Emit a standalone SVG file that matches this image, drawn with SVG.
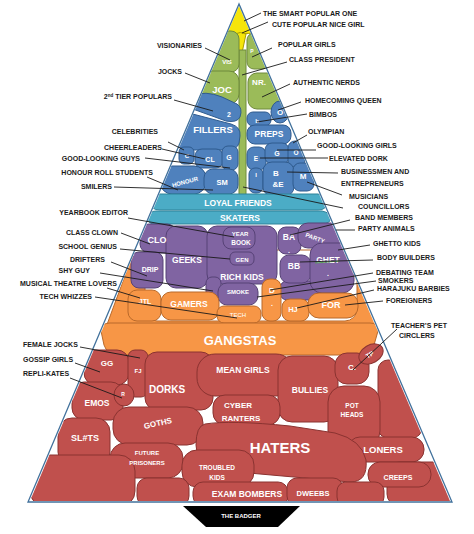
<svg xmlns="http://www.w3.org/2000/svg" width="474" height="534" viewBox="0 0 474 534">
<style>
.lbl{font-family:"Liberation Sans",Arial,sans-serif;font-weight:bold;font-size:7px;fill:#1a1a1a}
.e{text-anchor:end}
.ld{stroke:#1a1a1a;stroke-width:0.9;fill:none}
.w{font-family:"Liberation Sans",Arial,sans-serif;font-weight:bold;fill:#fff;text-anchor:middle}
.y{fill:#f5e50a;stroke:#a89b00;stroke-width:1}
.g{fill:#9bbb59;stroke:#6f8a3c;stroke-width:1}
.b{fill:#4f81bd;stroke:#2f5b8e;stroke-width:1}
.t{fill:#4bacc6;stroke:#2f8299;stroke-width:1}
.p{fill:#8064a2;stroke:#564276;stroke-width:1}
.o{fill:#f79646;stroke:#b8692a;stroke-width:1}
.r{fill:#c0504d;stroke:#8a3331;stroke-width:1}
</style>
<defs>
<clipPath id="pyr"><polygon points="239,6 30,501 450,501"/></clipPath>
</defs>
<rect width="474" height="534" fill="#fff"/>
<g id="shapes" clip-path="url(#pyr)">
<g id="top">
<path class="y" d="M239,4 L220,32 Q239,36 258,32 Z"/>
<path class="y" d="M235,34 Q240,31 246,34 L242,53 Q240,54 239,52 Z"/>
</g>
<g id="green">
<rect class="g" x="239" y="50" width="7" height="146"/>
<rect class="g" x="203" y="31" width="36" height="41" rx="8"/>
<rect class="g" x="247" y="33" width="22" height="36" rx="7"/>
<rect class="g" x="198" y="71" width="41" height="33" rx="10"/>
<rect class="g" x="248" y="73" width="36" height="36" rx="9"/>
<text class="w" x="227" y="64" font-size="6" fill="#fff">VIS</text>
<text class="w" x="252" y="53" font-size="5">P</text>
<text class="w" x="222" y="93" font-size="9.5">JOC</text>
<text class="w" x="259" y="85" font-size="8">NR.</text>
</g>
<g id="blue">
<path class="b" d="M192,96 Q205,90 222,97 L237,104 Q243,108 240,117 Q237,123 226,121 L190,108 Z"/>
<path class="b" d="M185,112 L231,124 Q241,127 240,136 L239,143 Q237,150 228,150 L186,150 Q176,150 178,138 Z"/>
<ellipse class="b" cx="280" cy="112" rx="9" ry="11"/>
<rect class="b" x="247" y="112" width="24" height="14" rx="6"/>
<rect class="b" x="247" y="125" width="44" height="19" rx="8"/>
<rect class="b" x="247" y="147" width="19" height="23" rx="7"/>
<rect class="b" x="265" y="143" width="24" height="21" rx="7"/>
<rect class="b" x="288" y="141" width="17" height="26" rx="7"/>
<rect class="b" x="249" y="168" width="14" height="25" rx="6"/>
<rect class="b" x="263" y="162" width="31" height="34" rx="9"/>
<rect class="b" x="293" y="163" width="21" height="28" rx="7"/>
<rect class="b" x="179" y="147" width="15" height="17" rx="5"/>
<rect class="b" x="195" y="149" width="28" height="19" rx="7"/>
<rect class="b" x="222" y="146" width="16" height="24" rx="6"/>
<rect class="b" x="160" y="166" width="46" height="28" rx="12"/>
<rect class="b" x="204" y="169" width="34" height="25" rx="9"/>
<text class="w" x="229" y="117" font-size="7">2</text>
<text class="w" x="213" y="133" font-size="9.5">FILLERS</text>
<text class="w" x="280" y="115" font-size="8">O</text>
<text class="w" x="257" y="123" font-size="6">b</text>
<text class="w" x="269" y="137" font-size="8.5">PREPS</text>
<text class="w" x="187" y="158" font-size="6">C</text>
<text class="w" x="210" y="162" font-size="7">CL</text>
<text class="w" x="229" y="160" font-size="7">G</text>
<text class="w" x="185" y="184" font-size="6" transform="rotate(-15 185 182)">HONOUR</text>
<text class="w" x="222" y="185" font-size="7.5">SM</text>
<text class="w" x="256" y="161" font-size="6.5">E</text>
<text class="w" x="277" y="156" font-size="7">G</text>
<text class="w" x="296" y="155" font-size="6.5">O</text>
<text class="w" x="256" y="177" font-size="6">I</text>
<text class="w" x="276" y="176" font-size="8">B</text>
<text class="w" x="278" y="187" font-size="8">&amp;E</text>
<text class="w" x="303" y="179" font-size="8">M</text>
</g>
<g id="teal">
<path class="t" d="M160,194 L318,194 Q327,196 327,202 Q327,210 318,210 L160,210 Q150,210 151,202 Q152,194 160,194 Z"/>
<path class="t" d="M156,211 L322,211 Q331,213 331,218 Q330,224 322,224 L156,224 Q147,224 148,218 Q149,211 156,211 Z"/>
<text class="w" x="238" y="206" font-size="8.5">LOYAL FRIENDS</text>
<text class="w" x="240" y="221" font-size="8.5">SKATERS</text>
</g>
<g id="orangeback">
<path class="o" d="M138,255 Q132,255 130,262 L105,330 L378,330 L364,262 Q361,253 355,255 Z"/>
<rect x="145" y="250" width="212" height="71" rx="12" fill="#fff" stroke="#b8692a" stroke-width="1"/>
</g>
<g id="purple">
<rect class="p" x="140" y="224" width="36" height="29" rx="9"/>
<rect class="p" x="166" y="226" width="42" height="62" rx="10"/>
<rect class="p" x="131" y="252" width="32" height="36" rx="8"/>
<rect class="p" x="207" y="226" width="70" height="58" rx="10"/>
<rect class="p" x="223" y="227" width="32" height="22" rx="8"/>
<rect class="p" x="230" y="252" width="24" height="13" rx="5"/>
<rect class="p" x="206" y="277" width="15" height="24" rx="6"/>
<rect class="p" x="280" y="281" width="52" height="19" rx="7"/>
<rect class="p" x="218" y="283" width="40" height="22" rx="9"/>
<rect class="p" x="278" y="227" width="23" height="27" rx="8"/>
<rect class="p" x="298" y="223" width="44" height="25" rx="10"/>
<rect class="p" x="280" y="255" width="31" height="28" rx="9"/>
<rect class="p" x="310" y="243" width="44" height="50" rx="12"/>
<text class="w" x="157" y="243" font-size="9">CLO</text>
<text class="w" x="187" y="263" font-size="8.5">GEEKS</text>
<text class="w" x="240" y="236" font-size="6">YEAR</text>
<text class="w" x="241" y="245" font-size="6.5">BOOK</text>
<text class="w" x="242" y="262" font-size="6">GEN</text>
<text class="w" x="242" y="280" font-size="8.5">RICH KIDS</text>
<text class="w" x="150" y="272" font-size="7">DRIP</text>
<text class="w" x="238" y="294" font-size="6">SMOKE</text>
<text class="w" x="289" y="240" font-size="8.5">BA</text>
<text class="w" x="289" y="253" font-size="7">.</text>
<text class="w" x="315" y="240" font-size="6" transform="rotate(20 315 238)">PARTY</text>
<text class="w" x="294" y="269" font-size="8.5">BB</text>
<text class="w" x="328" y="263" font-size="8.5">GHET</text>
<line x1="315" y1="263" x2="340" y2="261" stroke="#5aa05a" stroke-width="1"/>
<text class="w" x="328" y="276" font-size="7">.</text>
</g>
<g id="orange">
<rect class="o" x="128" y="290" width="33" height="31" rx="9"/>
<rect class="o" x="161" y="292" width="58" height="28" rx="10"/>
<rect class="o" x="217" y="306" width="44" height="17" rx="7"/>
<rect class="o" x="262" y="279" width="19" height="42" rx="8"/>
<rect class="o" x="282" y="299" width="27" height="22" rx="8"/>
<rect class="o" x="308" y="293" width="50" height="25" rx="11"/>
<path class="o" d="M110,323 L370,323 Q379,323 378,331 L374,345 Q369,355 355,355 L120,355 Q107,355 104,345 L101,331 Q101,323 110,323 Z"/>
<text class="w" x="145" y="304" font-size="7">JTL</text>
<text class="w" x="189" y="307" font-size="8.5">GAMERS</text>
<text x="238" y="317" font-size="6" fill="#fff" text-anchor="middle" font-family="Liberation Sans,Arial,sans-serif">TECH</text>
<text class="w" x="272" y="293" font-size="8">D</text>
<text class="w" x="272" y="306" font-size="7">.</text>
<text class="w" x="293" y="312" font-size="7.5">HJ</text>
<text class="w" x="331" y="308" font-size="9">FOR</text>
<text class="w" x="240" y="345" font-size="13">GANGSTAS</text>
</g>
<g id="red">
<rect class="r" x="84" y="350" width="45" height="35" rx="12"/>
<rect class="r" x="128" y="350" width="20" height="47" rx="7"/>
<rect class="r" x="145" y="352" width="68" height="58" rx="12"/>
<rect class="r" x="197" y="354" width="97" height="42" rx="18"/>
<rect class="r" x="278" y="356" width="60" height="66" rx="14"/>
<rect class="r" x="378" y="360" width="44" height="78" rx="10"/>
<rect class="r" x="335" y="353" width="34" height="31" rx="12"/>
<ellipse class="r" cx="371" cy="354" rx="13" ry="9" transform="rotate(-30 371 354)"/>
<rect class="r" x="72" y="382" width="51" height="38" rx="12"/>
<ellipse class="r" cx="124" cy="395" rx="10" ry="11"/>
<rect class="r" x="213" y="395" width="67" height="30" rx="12"/>
<rect class="r" x="328" y="386" width="52" height="61" rx="16"/>
<rect class="r" x="113" y="407" width="90" height="38" rx="16"/>
<rect class="r" x="58" y="418" width="52" height="48" rx="14"/>
<rect class="r" x="348" y="437" width="76" height="25" rx="12"/>
<path class="r" d="M205,424 Q230,420 290,426 L335,433 Q362,440 366,460 Q368,482 350,482 L215,470 Q196,465 196,445 Q196,426 205,424 Z"/>
<rect class="r" x="110" y="443" width="73" height="35" rx="15"/>
<rect class="r" x="182" y="450" width="72" height="37" rx="15"/>
<rect class="r" x="387" y="462" width="68" height="44" rx="12"/>
<rect class="r" x="368" y="462" width="63" height="25" rx="12"/>
<rect class="r" x="30" y="455" width="105" height="52" rx="16"/>
<rect class="r" x="137" y="478" width="52" height="28" rx="10"/>
<rect class="r" x="193" y="482" width="95" height="24" rx="10"/>
<rect class="r" x="287" y="478" width="56" height="28" rx="10"/>
<rect class="r" x="337" y="482" width="47" height="24" rx="9"/>
<text class="w" x="107" y="366" font-size="8">GG</text>
<text class="w" x="138" y="373" font-size="6">FJ</text>
<text class="w" x="167" y="393" font-size="10">DORKS</text>
<text class="w" x="243" y="373" font-size="8.5">MEAN GIRLS</text>
<text class="w" x="310" y="393" font-size="8.5">BULLIES</text>
<text class="w" x="352" y="370" font-size="8">C.</text>
<text class="w" x="370" y="357" font-size="6.5" transform="rotate(-30 370 355)">TP</text>
<text class="w" x="123" y="396" font-size="5">R</text>
<text class="w" x="97" y="406" font-size="8.5">EMOS</text>
<text class="w" x="238" y="408" font-size="8">CYBER</text>
<text class="w" x="241" y="421" font-size="8">RANTERS</text>
<text class="w" x="352" y="408" font-size="6.5">POT</text>
<text class="w" x="352" y="417" font-size="6.5">HEADS</text>
<text class="w" x="158" y="426" font-size="8" transform="rotate(-12 158 424)">GOTHS</text>
<text class="w" x="85" y="441" font-size="9">SL#TS</text>
<text class="w" x="280" y="453" font-size="15">HATERS</text>
<text class="w" x="383" y="453" font-size="9.5">LONERS</text>
<text class="w" x="147" y="455" font-size="6">FUTURE</text>
<text class="w" x="147" y="465" font-size="6">PRISONERS</text>
<text class="w" x="217" y="470" font-size="6.5">TROUBLED</text>
<text class="w" x="217" y="480" font-size="6.5">KIDS</text>
<text class="w" x="398" y="480" font-size="7">CREEPS</text>
<text class="w" x="247" y="497" font-size="8.5">EXAM BOMBERS</text>
<text class="w" x="313" y="496" font-size="7.5">DWEEBS</text>
</g>
</g>
<polygon points="239,4 28,502 452,502" fill="none" stroke="#41719c" stroke-width="1.3"/>
<g id="badger">
<polygon points="183,506 300,506 278,527 206,527" fill="#000"/>
<text class="w" x="241" y="518" font-size="6">THE BADGER</text>
</g>
<g id="connectors">
<line class="ld" x1="244" y1="21" x2="261" y2="13"/>
<line class="ld" x1="242" y1="33" x2="268" y2="22"/>
<line class="ld" x1="252" y1="57" x2="272" y2="48"/>
<line class="ld" x1="242" y1="75" x2="287" y2="62"/>
<line class="ld" x1="262" y1="97" x2="290" y2="84"/>
<line class="ld" x1="278" y1="110" x2="301" y2="102"/>
<line class="ld" x1="257" y1="122" x2="307" y2="114"/>
<line class="ld" x1="293" y1="143" x2="307" y2="135"/>
<line class="ld" x1="277" y1="150" x2="316" y2="150"/>
<line class="ld" x1="260" y1="158" x2="328" y2="158"/>
<line class="ld" x1="287" y1="172" x2="338" y2="173"/>
<line class="ld" x1="307" y1="182" x2="342" y2="195"/>
<line class="ld" x1="243" y1="187" x2="343" y2="208"/>
<line class="ld" x1="290" y1="235" x2="350" y2="220"/>
<line class="ld" x1="336" y1="230" x2="355" y2="230"/>
<line class="ld" x1="338" y1="250" x2="370" y2="245"/>
<line class="ld" x1="300" y1="262" x2="373" y2="260"/>
<line class="ld" x1="270" y1="290" x2="373" y2="273"/>
<line class="ld" x1="257" y1="297" x2="376" y2="281"/>
<line class="ld" x1="297" y1="308" x2="374" y2="290"/>
<line class="ld" x1="345" y1="305" x2="383" y2="301"/>
<line class="ld" x1="353" y1="370" x2="397" y2="329"/>
<line class="ld" x1="205" y1="48" x2="230" y2="60"/>
<line class="ld" x1="185" y1="73" x2="210" y2="83"/>
<line class="ld" x1="174" y1="100" x2="213" y2="111"/>
<line class="ld" x1="168" y1="142" x2="184" y2="150"/>
<line class="ld" x1="162" y1="149" x2="205" y2="159"/>
<line class="ld" x1="145" y1="158" x2="230" y2="168"/>
<line class="ld" x1="147" y1="177" x2="178" y2="190"/>
<line class="ld" x1="114" y1="187" x2="213" y2="190"/>
<line class="ld" x1="128" y1="218" x2="234" y2="237"/>
<line class="ld" x1="121" y1="233" x2="150" y2="244"/>
<line class="ld" x1="120" y1="249" x2="230" y2="259"/>
<line class="ld" x1="111" y1="262" x2="147" y2="276"/>
<line class="ld" x1="100" y1="273" x2="213" y2="291"/>
<line class="ld" x1="107" y1="288" x2="140" y2="298"/>
<line class="ld" x1="95" y1="297" x2="237" y2="318"/>
<line class="ld" x1="80" y1="347" x2="140" y2="358"/>
<line class="ld" x1="75" y1="363" x2="100" y2="372"/>
<line class="ld" x1="70" y1="378" x2="122" y2="398"/>
</g>
<g id="labels">
<text class="lbl" x="263" y="16">THE SMART POPULAR ONE</text>
<text class="lbl" x="272" y="27">CUTE POPULAR NICE GIRL</text>
<text class="lbl" x="278" y="47">POPULAR GIRLS</text>
<text class="lbl" x="289" y="62">CLASS PRESIDENT</text>
<text class="lbl" x="293" y="85">AUTHENTIC NERDS</text>
<text class="lbl" x="305" y="103">HOMECOMING QUEEN</text>
<text class="lbl" x="309" y="117">BIMBOS</text>
<text class="lbl" x="308" y="134">OLYMPIAN</text>
<text class="lbl" x="317" y="148">GOOD-LOOKING GIRLS</text>
<text class="lbl" x="329" y="161">ELEVATED DORK</text>
<text class="lbl" x="341" y="174">BUSINESSMEN AND</text>
<text class="lbl" x="341" y="186">ENTREPRENEURS</text>
<text class="lbl" x="349" y="199">MUSICIANS</text>
<text class="lbl" x="358" y="209">COUNCILLORS</text>
<text class="lbl" x="355" y="220">BAND MEMBERS</text>
<text class="lbl" x="358" y="231">PARTY ANIMALS</text>
<text class="lbl" x="373" y="246">GHETTO KIDS</text>
<text class="lbl" x="377" y="260">BODY BUILDERS</text>
<text class="lbl" x="376" y="275">DEBATING TEAM</text>
<text class="lbl" x="378" y="283">SMOKERS</text>
<text class="lbl" x="377" y="291">HARAJUKU BARBIES</text>
<text class="lbl" x="386" y="303">FOREIGNERS</text>
<text class="lbl" x="391" y="328">TEACHER’S PET</text>
<text class="lbl" x="399" y="338">CIRCLERS</text>
<text class="lbl e" x="202" y="48">VISIONARIES</text>
<text class="lbl e" x="182" y="74">JOCKS</text>
<text class="lbl e" x="172" y="99">2<tspan font-size="4.5" dy="-2.5">nd</tspan><tspan dy="2.5"> TIER POPULARS</tspan></text>
<text class="lbl e" x="158" y="134">CELEBRITIES</text>
<text class="lbl e" x="162" y="150">CHEERLEADERS</text>
<text class="lbl e" x="140" y="161">GOOD-LOOKING GUYS</text>
<text class="lbl e" x="153" y="175">HONOUR ROLL STUDENTS</text>
<text class="lbl e" x="112" y="189">SMILERS</text>
<text class="lbl e" x="128" y="215">YEARBOOK EDITOR</text>
<text class="lbl e" x="118" y="235">CLASS CLOWN</text>
<text class="lbl e" x="117" y="249">SCHOOL GENIUS</text>
<text class="lbl e" x="105" y="262">DRIFTERS</text>
<text class="lbl e" x="90" y="273">SHY GUY</text>
<text class="lbl e" x="117" y="286">MUSICAL THEATRE LOVERS</text>
<text class="lbl e" x="92" y="299">TECH WHIZZES</text>
<text class="lbl" x="23" y="347">FEMALE JOCKS</text>
<text class="lbl" x="23" y="362">GOSSIP GIRLS</text>
<text class="lbl" x="23" y="376">REPLI-KATES</text>
</g>
</svg>
